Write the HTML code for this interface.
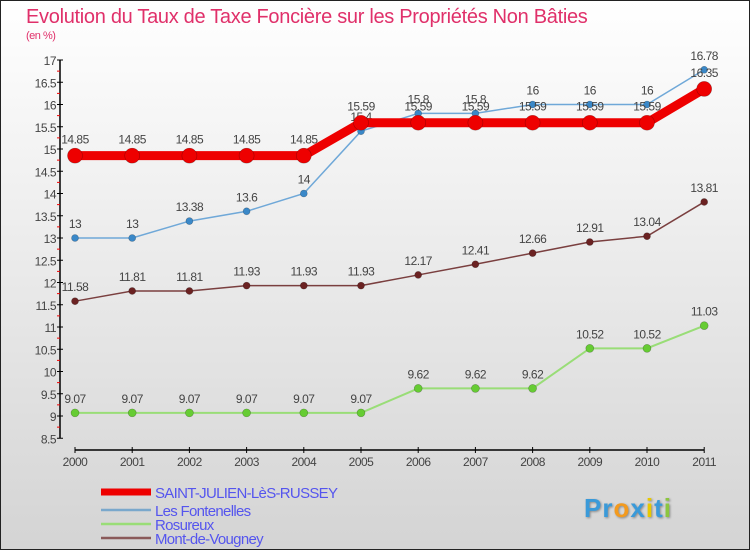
<!DOCTYPE html>
<html><head><meta charset="utf-8"><style>
body{margin:0;width:750px;height:550px;overflow:hidden;font-family:"Liberation Sans",sans-serif}
#wrap{position:relative;width:748px;height:548px;border:1px solid #222;background:linear-gradient(#ffffff,#d4d4d4)}
</style></head><body>
<div id="wrap">
<svg id="chart" width="748" height="548"></svg>
</div>
<script>
const years=["2000","2001","2002","2003","2004","2005","2006","2007","2008","2009","2010","2011"];
const saint=[14.85,14.85,14.85,14.85,14.85,15.59,15.59,15.59,15.59,15.59,15.59,16.35];
const font=[13,13,13.38,13.6,14,15.4,15.8,15.8,16,16,16,16.78];
const rosu=[9.07,9.07,9.07,9.07,9.07,9.07,9.62,9.62,9.62,10.52,10.52,11.03];
const mont=[11.58,11.81,11.81,11.93,11.93,11.93,12.17,12.41,12.66,12.91,13.04,13.81];
const yTicks=[8.5,9,9.5,10,10.5,11,11.5,12,12.5,13,13.5,14,14.5,15,15.5,16,16.5,17];
const NS="http://www.w3.org/2000/svg";
const svg=document.getElementById('chart');
const X=i=>75-1+i*57.2;
const Y=v=>416-1-(v-9)*44.5;
function el(t,a,p){const e=document.createElementNS(NS,t);for(const k in a)e.setAttribute(k,a[k]);(p||svg).appendChild(e);return e;}
function tx(x,y,s,o){const e=el('text',Object.assign({x:x,y:y,'font-size':12,fill:'#444','font-family':'Liberation Sans, sans-serif','letter-spacing':'-0.5'},o||{}));e.textContent=s;return e;}
let t=tx(25,22,"Evolution du Taux de Taxe Foncière sur les Propriétés Non Bâties",{'font-size':20,fill:'#e0306a','letter-spacing':'-0.3'});

t=tx(25,38,"(en %)",{'font-size':11,fill:'#e0306a'});

let ax=el('line',{x1:59,y1:Y(17),x2:59,y2:Y(8.5),stroke:'#000','stroke-width':1.5});

yTicks.forEach((v,i)=>{
 el('line',{x1:56,y1:Y(v),x2:62,y2:Y(v),stroke:'#000','stroke-width':1});
 const l=tx(55,Y(v)+5,String(v),{'text-anchor':'end'});
 
 if(v<17) el('line',{x1:56,y1:Y(v+0.25),x2:59,y2:Y(v+0.25),stroke:'#e00','stroke-width':1});
});
ax=el('line',{x1:X(0),y1:449,x2:X(11),y2:449,stroke:'#000','stroke-width':1.5});

years.forEach((y,i)=>{
 el('line',{x1:X(i),y1:446,x2:X(i),y2:452,stroke:'#000'});
 const l=tx(X(i),465,y,{'text-anchor':'middle'});
 
});
function series(name,data,color,dot,w,r,labelOff){
 const g=el('g',{});
 el('polyline',{points:data.map((v,i)=>X(i)+','+Y(v)).join(' '),fill:'none',stroke:color,'stroke-width':w},g);
 data.forEach((v,i)=>{
  const c=el('circle',{cx:X(i),cy:Y(v),r:r,fill:dot,stroke:'rgba(0,0,0,0.3)','stroke-width':0.6},g);
  
  const l=tx(X(i),Y(v)-labelOff,String(v),{'text-anchor':'middle'});
  g.appendChild(l);
 });
}
series('series-rosureux',rosu,'#99dd77','#66cc33',2,4,10);
series('series-mont-de-vougney',mont,'#7a3f3f','#6b2222',1.5,3.5,10);
series('series-les-fontenelles',font,'#6fa8d8','#3a88c8',1.5,3.5,10);
series('series-saint-julien',saint,'#ee0000','#ee0000',9,7.5,12);
const leg=[["SAINT-JULIEN-LèS-RUSSEY","#ee0000",7],["Les Fontenelles","#7aa8cc",2.5],["Rosureux","#99dd77",2.5],["Mont-de-Vougney","#8a5a5a",2.5]];
const ly=[491,509,523,537];
leg.forEach((d,i)=>{
 const g=el('g',{});
 el('line',{x1:100,y1:ly[i],x2:150,y2:ly[i],stroke:d[1],'stroke-width':d[2]},g);
 const l=tx(154,ly[i]+6,d[0],{'font-size':15,fill:'#5555ee','letter-spacing':'-0.7'});g.appendChild(l);
});
const lg=el('text',{x:583,y:516,'font-size':26,'font-weight':'bold','font-family':'Liberation Sans, sans-serif','letter-spacing':'1',style:'text-shadow:1px 1px 2px #888'});

[["P","#3a9ad9"],["r","#3a9ad9"],["o","#f39a1e"],["x","#3a9ad9"],["i","#e8c800"],["t","#3a9ad9"],["i","#8cc63f"]].forEach(c=>{const s=el('tspan',{fill:c[1]},lg);s.textContent=c[0];});
</script>
</body></html>
